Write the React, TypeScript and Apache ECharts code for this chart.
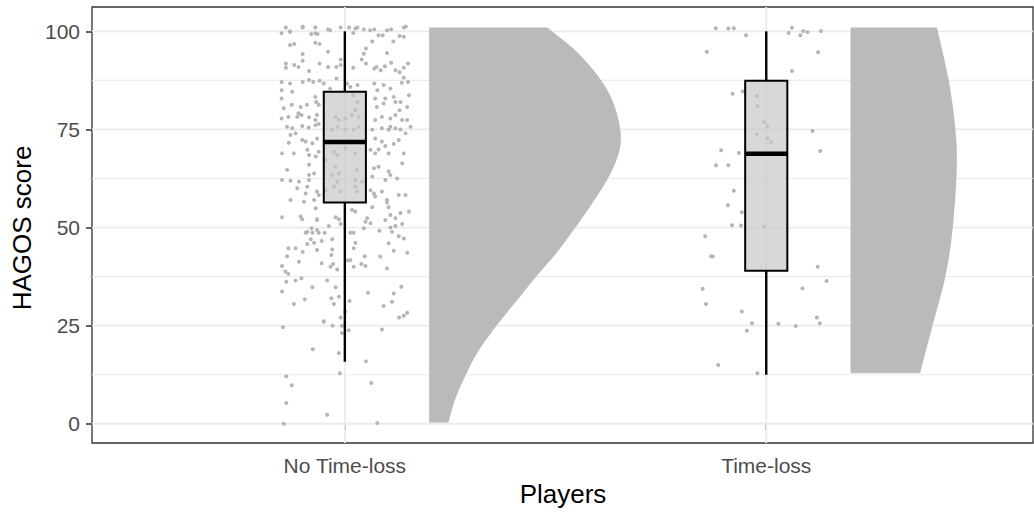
import React, { useEffect, useRef } from "react";
import * as echarts from "echarts";

const categories = ["No Time-loss", "Time-loss"];
const yTicks = [0, 25, 50, 75, 100];
const yMinorGrid = [12.5, 37.5, 62.5, 87.5];
const xTitle = "Players";
const yTitle = "HAGOS score";

// box stats per group: [lower whisker, q1, median, q3, upper whisker]
const boxStats = [
  [15.8, 56.4, 71.8, 84.6, 100],
  [12.5, 39.0, 68.8, 87.4, 100],
];

// half-violin density profile: score values and widths (x units)
const violinY1 = [0.3, 6, 12, 18, 25, 31.5, 37.5, 43.5, 50, 56, 61, 65, 69, 72.5, 76, 80, 84, 88, 92, 96, 101];
const violinW1 = [0.046, 0.061, 0.085, 0.114, 0.16, 0.209, 0.254, 0.302, 0.347, 0.386, 0.416, 0.436, 0.45, 0.455, 0.452, 0.443, 0.428, 0.405, 0.375, 0.338, 0.28];
const violinY2 = [12.9, 24.8, 37.5, 49.4, 64.6, 74.8, 87.5, 101.0];
const violinW2 = [0.165, 0.194, 0.225, 0.242, 0.252, 0.249, 0.233, 0.205];

// jittered raw points: [jitter offset, score]
const pointsNoLoss = [
  [-0.14, 101], [-0.13, 99.8], [-0.13, 100], [-0.15, 99.5], [-0.1, 101], [-0.1, 101.2], [-0.07, 101], [-0.07, 99.5], [-0.08, 99.3], [-0.065, 99.3],
  [-0.04, 100.5], [-0.035, 100.3], [-0.01, 101], [0.01, 101], [0.025, 100.7], [0.03, 101], [0.045, 100.5], [0.06, 100.3], [0.07, 100.5], [0.08, 99],
  [0.09, 99], [0.1, 100.3], [0.11, 100.5], [0.14, 101], [0.145, 101.2], [0.13, 98.8], [0.02, 99.6],
  [-0.13, 96.5], [-0.12, 96.8], [-0.07, 97.1], [-0.06, 96.8], [-0.04, 94.8], [0.05, 95.6], [0.045, 94.3], [0.065, 97.4], [0.1, 94.5], [0.115, 97.4], [0.14, 98.6],
  [-0.14, 91.8], [-0.14, 90.7], [-0.12, 91.4], [-0.11, 90.9], [-0.1, 92.5], [-0.1, 94.2], [-0.085, 89.9], [-0.06, 91.8], [-0.04, 90.9], [-0.02, 90.9],
  [-0.01, 92.8], [-0.01, 91.4], [0.02, 90.7], [0.04, 92.8], [0.05, 91.8], [0.07, 90.5], [0.075, 90.9], [0.085, 90.1], [0.095, 91.1], [0.11, 92.0],
  [0.12, 90.1], [0.13, 89.6], [0.14, 90.7], [0.15, 91.8],
  [-0.15, 87.1], [-0.13, 86.7], [-0.1, 87.1], [-0.085, 87.6], [-0.075, 87.1], [-0.06, 87.4], [-0.05, 86.7], [-0.035, 85.4], [-0.02, 88.0], [0.005, 86.7],
  [0.013, 85.8], [0.03, 86.3], [0.07, 86.7], [0.077, 85.0], [0.092, 86.3], [0.108, 85.4], [0.135, 86.9], [0.14, 88.2], [0.15, 87.1],
  [-0.15, 85.0], [-0.125, 84.6], [-0.15, 82.9], [-0.145, 80.4], [-0.126, 81.3], [-0.105, 80.7], [-0.11, 79.1], [-0.09, 81.3], [-0.07, 83.3], [-0.068, 82.0],
  [-0.066, 78.7], [-0.062, 81.3], [0.02, 83.7], [0.03, 82.0], [0.072, 82.9], [0.076, 80.7], [0.092, 81.6], [0.096, 82.9], [0.116, 83.3], [0.12, 82.0],
  [0.132, 82.0], [0.13, 79.9], [0.148, 80.7], [0.152, 83.7], [-0.15, 77.8], [-0.134, 78.2], [-0.113, 78.2], [-0.103, 78.7], [-0.085, 78.1], [-0.07, 77.4],
  [-0.022, 78.2], [-0.014, 77.4], [0.001, 77.8], [0.025, 79.9], [0.017, 78.7], [0.033, 78.2], [0.072, 77.4], [0.088, 78.2], [0.108, 77.8], [0.12, 78.7],
  [0.136, 77.4], [0.148, 77.4],
  [-0.137, 75.7], [-0.125, 75.3], [-0.101, 75.9], [-0.086, 75.5], [-0.07, 76.1], [-0.062, 76.4], [-0.03, 74.9], [-0.018, 75.7], [0.001, 75.0], [0.021, 74.9],
  [0.033, 75.7], [0.065, 74.9], [0.088, 75.3], [0.104, 74.9], [0.108, 75.7], [0.12, 75.3], [0.132, 75.0], [0.144, 74.0], [0.156, 75.7],
  [-0.129, 73.6], [-0.117, 74.0], [-0.101, 72.3], [-0.093, 71.9], [-0.133, 71.6], [-0.077, 71.5], [-0.066, 72.7], [0.072, 72.7], [0.088, 71.9], [0.096, 70.8],
  [0.116, 71.3], [0.128, 72.3],
  [-0.149, 68.9], [-0.121, 68.9], [-0.089, 69.8], [-0.085, 68.5], [-0.069, 68.1], [-0.062, 69.3], [-0.026, 69.3], [-0.018, 68.5], [0.001, 70.2], [0.025, 68.9],
  [0.061, 69.8], [0.072, 68.9], [0.08, 69.9], [0.104, 68.9], [0.14, 68.9], [0.136, 66.4], [-0.085, 66.0], [-0.046, 67.2], [-0.022, 65.5], [-0.137, 64.7],
  [0.069, 65.1], [0.08, 65.5], [0.104, 64.3], [0.108, 63.4], [-0.085, 63.4], [-0.073, 63.8], [-0.03, 63.4], [-0.014, 63.8], [0.029, 64.7],
  [-0.149, 62.1], [-0.129, 61.9], [-0.109, 61.7], [-0.085, 62.1], [-0.018, 61.7], [0.025, 62.1], [0.041, 61.7], [0.065, 63.0], [0.096, 62.1], [0.124, 62.5],
  [-0.113, 60.0], [-0.089, 60.4], [-0.093, 58.7], [-0.066, 59.2], [-0.062, 58.3], [-0.046, 59.5], [-0.026, 60.4], [-0.01, 59.2], [0.025, 60.4], [0.029, 59.2],
  [0.061, 59.5], [0.069, 58.7], [0.088, 59.2], [0.128, 58.3], [0.144, 58.3],
  [-0.129, 57.0], [-0.097, 56.6], [-0.073, 57.0], [0.1, 57.0], [0.072, 57.9],
  [-0.149, 52.6], [-0.105, 52.8], [-0.101, 52.1], [-0.069, 54.9], [-0.066, 52.1], [-0.022, 52.6], [-0.014, 52.1], [0.017, 54.5], [0.025, 54.1], [0.053, 52.4],
  [0.065, 55.2], [0.104, 55.2], [0.1, 56.4], [0.108, 53.2], [0.12, 52.4], [0.132, 53.7], [0.152, 54.1],
  [-0.066, 51.9], [-0.038, 50.4], [-0.01, 50.9], [0.049, 51.5], [0.061, 51.1], [0.096, 51.9], [0.108, 50.0], [0.12, 50.4], [0.136, 50.9],
  [-0.093, 48.7], [-0.089, 48.9], [-0.079, 49.8], [-0.077, 48.7], [-0.066, 49.4], [-0.062, 48.7], [-0.048, 48.7], [0.013, 48.7], [0.021, 48.7], [0.045, 49.8],
  [0.082, 49.2], [0.112, 48.9], [0.128, 47.8], [0.14, 47.2],
  [-0.081, 47.0], [-0.089, 45.8], [-0.073, 46.1], [-0.055, 46.6], [-0.03, 47.0], [0.025, 46.1], [0.104, 46.0], [0.021, 44.7], [-0.134, 44.7], [-0.117, 44.7],
  [-0.1, 43.8], [-0.066, 44.3], [-0.03, 44.4], [0.116, 44.1], [0.148, 43.6],
  [-0.137, 42.7], [-0.032, 43.0], [0.047, 42.7], [0.084, 42.6], [-0.109, 41.3], [-0.055, 40.9], [-0.034, 40.0], [-0.028, 40.7], [-0.018, 39.3], [0.007, 41.6],
  [0.013, 41.7], [0.021, 40.0], [0.039, 40.7], [0.049, 40.2], [0.1, 39.6], [-0.149, 40.2], [-0.141, 38.8], [-0.134, 38.2], [-0.139, 36.2], [-0.117, 36.5],
  [-0.103, 37.1], [-0.042, 36.5], [-0.077, 34.8], [-0.022, 34.8], [-0.149, 33.7], [-0.095, 31.7], [-0.032, 32.0], [-0.014, 32.4], [0.011, 31.3], [0.055, 33.4],
  [0.116, 33.2], [0.134, 34.9], [0.112, 31.1], [-0.121, 30.5], [-0.026, 30.5], [0.092, 30.0], [0.148, 28.3], [0.14, 27.5], [0.129, 27.1], [-0.05, 26.0],
  [-0.01, 27.1], [0.001, 28.6],
  [-0.05, 26.1], [-0.029, 25.0], [-0.007, 25.0], [-0.147, 24.6], [-0.007, 23.1], [0.009, 23.8], [0.088, 24.0], [-0.076, 19.0], [-0.014, 18.0], [0.05, 15.9],
  [-0.012, 12.9], [-0.139, 12.1], [-0.126, 9.8], [0.063, 10.4], [-0.139, 5.3], [-0.042, 2.3], [-0.145, 0], [0.077, 0.2],
];

const pointsTimeLoss = [
  [-0.12, 100.8], [-0.09, 100.7], [-0.077, 100.8], [-0.048, 99.0], [-0.141, 94.8], [0.061, 100.9], [0.053, 99.6], [0.081, 99.0], [0.088, 100.1], [0.098, 99.8],
  [0.13, 100.1], [0.123, 94.7], [0.061, 89.9],
  [-0.08, 84.1], [-0.056, 84.7], [-0.022, 83.5], [-0.021, 80.9], [-0.005, 76.9], [0.003, 75.7], [-0.022, 73.8], [0.003, 72.7], [0.011, 71.8], [0.11, 74.6],
  [0.128, 69.5], [-0.107, 69.7], [-0.065, 69.0], [-0.119, 65.9], [-0.09, 65.9], [-0.077, 59.4], [-0.091, 55.7], [-0.058, 53.9], [-0.081, 50.6], [-0.06, 50.5],
  [-0.005, 50.2],
  [-0.145, 47.8], [-0.131, 42.7], [-0.127, 42.6], [0.122, 40.0], [0.143, 36.4], [-0.151, 34.4], [0.086, 34.5], [-0.143, 30.5], [-0.058, 28.6], [-0.034, 25.6],
  [-0.046, 23.7], [0.029, 25.5], [0.07, 24.9], [0.12, 27.1], [0.127, 25.6], [-0.114, 15.0], [-0.021, 12.9],
];

const X_MIN = 0.4;
const X_MAX = 2.633;
const Y_MIN = -4.9;
const Y_MAX = 106.2;
const BOX_HALF = 0.05;
const VIOLIN_OFFSET = 0.2;
const FONT = "'Liberation Sans', Arial, Helvetica, sans-serif";

const violins = [
  { y: violinY1, w: violinW1 },
  { y: violinY2, w: violinW2 },
];

function catmull(pts: number[][], steps: number) {
  const out: number[][] = [];
  const n = pts.length;
  for (let i = 0; i < n - 1; i++) {
    const p0 = pts[Math.max(0, i - 1)];
    const p1 = pts[i];
    const p2 = pts[i + 1];
    const p3 = pts[Math.min(n - 1, i + 2)];
    for (let s = 0; s < steps; s++) {
      const t = s / steps;
      const t2 = t * t;
      const t3 = t2 * t;
      const f = (a: number, b: number, c: number, d: number) =>
        0.5 * (2 * b + (-a + c) * t + (2 * a - 5 * b + 4 * c - d) * t2 + (-a + 3 * b - 3 * c + d) * t3);
      out.push([f(p0[0], p1[0], p2[0], p3[0]), f(p0[1], p1[1], p2[1], p3[1])]);
    }
  }
  out.push(pts[n - 1]);
  return out;
}

export default function App() {
  const ref = useRef<HTMLDivElement>(null);

  useEffect(() => {
    document.body.style.margin = "0";
    if (!ref.current) return;
    const chart = echarts.init(ref.current, undefined, { renderer: "svg" });

    const gridColor = "#ebebeb";

    const option: any = {
      animation: false,
      backgroundColor: "#ffffff",
      grid: {
        left: 92,
        top: 7,
        width: 941,
        height: 436,
        show: true,
        borderColor: "#333333",
        borderWidth: 1.3,
        backgroundColor: "transparent",
      },
      xAxis: {
        type: "value",
        min: X_MIN,
        max: X_MAX,
        splitLine: { show: false },
        axisLine: { show: false },
        axisTick: {
          show: true,
          customValues: [1, 2],
          length: 6,
          lineStyle: { color: "#333333", width: 1.5 },
        },
        axisLabel: {
          customValues: [1, 2],
          formatter: (v: number) => categories[Math.round(v) - 1] ?? "",
          fontSize: 21,
          color: "#4d4d4d",
          fontFamily: FONT,
          margin: 12,
        },
      },
      yAxis: {
        type: "value",
        min: Y_MIN,
        max: Y_MAX,
        splitLine: { show: false },
        axisLine: { show: false },
        axisTick: {
          show: true,
          customValues: yTicks,
          length: 6,
          lineStyle: { color: "#333333", width: 1.5 },
        },
        axisLabel: {
          customValues: yTicks,
          fontSize: 21,
          color: "#4d4d4d",
          fontFamily: FONT,
          margin: 12,
        },
      },
      graphic: [
        {
          type: "text",
          x: 22,
          y: 228,
          rotation: Math.PI / 2,
          style: {
            text: yTitle,
            fontSize: 26,
            fontFamily: FONT,
            fill: "#000000",
            align: "center",
            verticalAlign: "middle",
          },
        },
        {
          type: "text",
          x: 563,
          y: 494,
          style: {
            text: xTitle,
            fontSize: 26,
            fontFamily: FONT,
            fill: "#000000",
            align: "center",
            verticalAlign: "middle",
          },
        },
      ],
      series: [
        {
          type: "custom",
          silent: true,
          z: 1,
          data: [
            ...yTicks.map((v) => [1.5, v, 1]),
            ...yMinorGrid.map((v) => [1.5, v, 0]),
          ],
          encode: { x: 0, y: 1 },
          renderItem: (params: any, api: any) => {
            const v = api.value(1);
            const major = api.value(2) === 1;
            const a = api.coord([X_MIN, v]);
            const b = api.coord([X_MAX, v]);
            return {
              type: "line",
              shape: { x1: a[0], y1: a[1], x2: b[0], y2: b[1] },
              style: { stroke: gridColor, lineWidth: major ? 1.8 : 1.1 },
            };
          },
        },
        {
          type: "custom",
          silent: true,
          z: 1,
          data: categories.map((_, i) => [i + 1, 50]),
          encode: { x: 0, y: 1 },
          renderItem: (params: any, api: any) => {
            const x = api.value(0);
            const a = api.coord([x, Y_MIN]);
            const b = api.coord([x, Y_MAX]);
            return {
              type: "line",
              shape: { x1: a[0], y1: a[1], x2: b[0], y2: b[1] },
              style: { stroke: gridColor, lineWidth: 1.8 },
            };
          },
        },
        {
          type: "custom",
          silent: true,
          z: 2,
          data: categories.map((_, i) => [i + 1, 50]),
          encode: { x: 0, y: 1 },
          renderItem: (params: any, api: any) => {
            const i = params.dataIndex;
            const v = violins[i];
            const x0 = i + 1 + VIOLIN_OFFSET;
            const edge = v.y.map((y, k) => api.coord([x0 + v.w[k], y]));
            const smooth = catmull(edge, 10);
            const bottomLeft = api.coord([x0, v.y[0]]);
            const topLeft = api.coord([x0, v.y[v.y.length - 1]]);
            const pts = [bottomLeft, ...smooth, topLeft];
            return {
              type: "polygon",
              shape: { points: pts },
              style: { fill: "#bababa", stroke: "none" },
            };
          },
        },
        {
          type: "scatter",
          silent: true,
          z: 3,
          symbolSize: 4,
          itemStyle: { color: "#b5b5b5", opacity: 1 },
          data: pointsNoLoss.map(([dx, y]) => [1 + dx, y]),
        },
        {
          type: "scatter",
          silent: true,
          z: 3,
          symbolSize: 4,
          itemStyle: { color: "#b5b5b5", opacity: 1 },
          data: pointsTimeLoss.map(([dx, y]) => [2 + dx, y]),
        },
        {
          type: "custom",
          silent: true,
          z: 4,
          data: boxStats.map((s, i) => [i + 1, s[2]]),
          encode: { x: 0, y: 1 },
          renderItem: (params: any, api: any) => {
            const i = params.dataIndex;
            const [lo, q1, med, q3, hi] = boxStats[i];
            const cx = i + 1;
            const pc = (y: number) => api.coord([cx, y]);
            const tl = api.coord([cx - BOX_HALF, q3]);
            const br = api.coord([cx + BOX_HALF, q1]);
            const ml = api.coord([cx - BOX_HALF, med]);
            const mr = api.coord([cx + BOX_HALF, med]);
            const pHi = pc(hi), pQ3 = pc(q3), pQ1 = pc(q1), pLo = pc(lo);
            return {
              type: "group",
              children: [
                {
                  type: "line",
                  shape: { x1: pHi[0], y1: pHi[1], x2: pQ3[0], y2: pQ3[1] },
                  style: { stroke: "#000000", lineWidth: 2.4 },
                },
                {
                  type: "line",
                  shape: { x1: pQ1[0], y1: pQ1[1], x2: pLo[0], y2: pLo[1] },
                  style: { stroke: "#000000", lineWidth: 2.4 },
                },
                {
                  type: "rect",
                  shape: { x: tl[0], y: tl[1], width: br[0] - tl[0], height: br[1] - tl[1] },
                  style: { fill: "rgba(200,200,200,0.7)", stroke: "#000000", lineWidth: 2 },
                },
                {
                  type: "line",
                  shape: { x1: ml[0], y1: ml[1], x2: mr[0], y2: mr[1] },
                  style: { stroke: "#000000", lineWidth: 4.5 },
                },
              ],
            };
          },
        },
      ],
    };

    chart.setOption(option);
    return () => {
      chart.dispose();
    };
  }, []);

  return <div ref={ref} style={{ width: 1034, height: 515 }} />;
}
